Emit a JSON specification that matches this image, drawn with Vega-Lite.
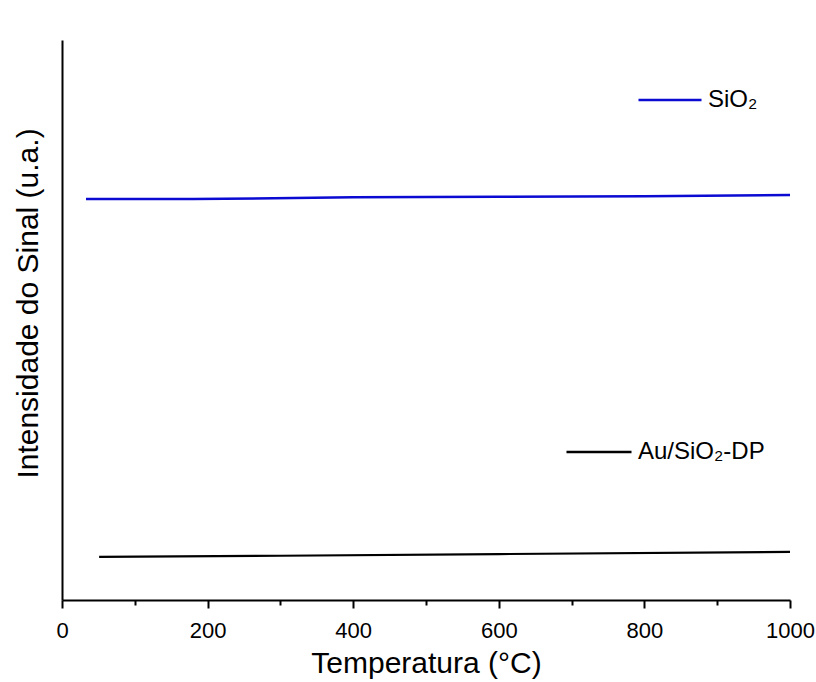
{
  "$schema": "https://vega.github.io/schema/vega-lite/v6.json",
  "autosize": {"type": "none"},
  "width": 728,
  "height": 560,
  "padding": {"left": 62, "top": 40, "right": 26, "bottom": 82},
  "background": "white",
  "config": {
    "view": {"stroke": null},
    "font": "Liberation Sans",
    "axis": {"grid": false, "domainColor": "black", "tickColor": "black", "labelColor": "black", "titleColor": "black", "titleFontWeight": "normal"}
  },
  "datasets": {
    "sio2": [
      {"temp": 33, "signal": 71.6, "series": "SiO₂"},
      {"temp": 180, "signal": 71.6, "series": "SiO₂"},
      {"temp": 400, "signal": 71.9, "series": "SiO₂"},
      {"temp": 600, "signal": 72.0, "series": "SiO₂"},
      {"temp": 800, "signal": 72.1, "series": "SiO₂"},
      {"temp": 1000, "signal": 72.3, "series": "SiO₂"}
    ],
    "au": [
      {"temp": 51, "signal": 7.7, "series": "Au/SiO₂-DP"},
      {"temp": 300, "signal": 7.9, "series": "Au/SiO₂-DP"},
      {"temp": 600, "signal": 8.2, "series": "Au/SiO₂-DP"},
      {"temp": 1000, "signal": 8.6, "series": "Au/SiO₂-DP"}
    ]
  },
  "encoding": {
    "x": {"field": "temp", "type": "quantitative", "scale": {"domain": [0, 1000], "nice": false},
      "axis": {"values": [0, 100, 200, 300, 400, 500, 600, 700, 800, 900, 1000], "format": "d",
        "labelExpr": "datum.value % 200 === 0 ? datum.label : ''",
        "title": "Temperatura (°C)", "titleFontSize": 30, "labelFontSize": 22,
        "tickSize": {"condition": {"test": "datum.value % 200 === 0", "value": 8}, "value": 5},
        "tickWidth": 2, "domainWidth": 2, "labelPadding": 12, "titlePadding": 7, "labelFlush": false}},
    "y": {"field": "signal", "type": "quantitative", "scale": {"domain": [0, 100], "nice": false},
      "axis": {"title": "Intensidade do Sinal (u.a.)", "titleFontSize": 30, "titleY": 263, "labels": false, "ticks": false, "domainWidth": 2, "titlePadding": 19}}
  },
  "layer": [
    {
      "data": {"name": "sio2"},
      "mark": {"type": "line", "strokeWidth": 2.5},
      "encoding": {
        "color": {"field": "series", "type": "nominal",
          "scale": {"domain": ["SiO₂"], "range": ["#0a0ad2"]},
          "legend": {"title": null, "orient": "none", "legendX": 575, "legendY": 27, "symbolType": "stroke", "symbolSize": 3969, "symbolStrokeWidth": 2.5, "labelFontSize": 24, "labelColor": "black", "labelOffset": 5}}
      }
    },
    {
      "data": {"name": "au"},
      "mark": {"type": "line", "strokeWidth": 2.2},
      "encoding": {
        "color": {"field": "series", "type": "nominal",
          "scale": {"domain": ["Au/SiO₂-DP"], "range": ["black"]},
          "legend": {"title": null, "orient": "none", "legendX": 503, "legendY": 378, "symbolType": "stroke", "symbolSize": 4225, "symbolStrokeWidth": 2.5, "labelFontSize": 24, "labelColor": "black", "labelOffset": 5}}
      }
    }
  ],
  "resolve": {"scale": {"color": "independent"}, "legend": {"color": "independent"}}
}
